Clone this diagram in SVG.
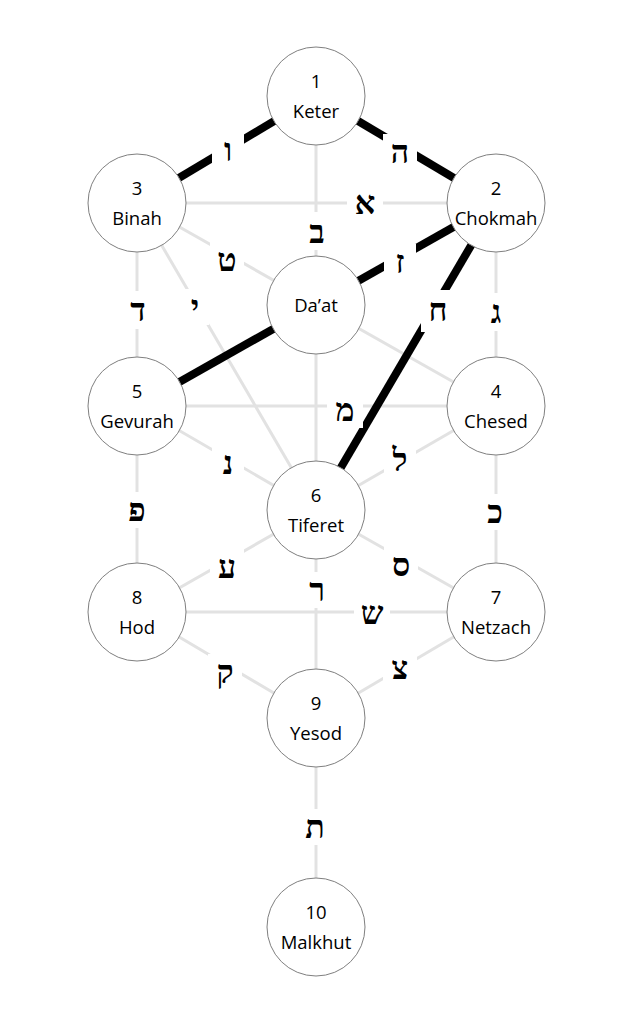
<svg xmlns="http://www.w3.org/2000/svg" width="633" height="1024" viewBox="0 0 633 1024">
<style>
.bg{fill:#ffffff}
.lt{stroke:#e2e2e2;stroke-width:3;fill:none}
.tk{stroke:#000000;stroke-width:8;fill:none}
.node circle{fill:#ffffff;stroke:#7f7f7f;stroke-width:1}
.node text{font-family:"Open Sans","Noto Sans",sans-serif;font-size:18.5px;fill:#000;text-anchor:middle}
.lbl rect{fill:#ffffff}
.lbl text{font-family:"Liberation Serif","DejaVu Serif",serif;font-weight:bold;font-size:32px;fill:#000;text-anchor:middle}
</style>
<rect class="bg" x="0" y="0" width="633" height="1024"/>
<g id="connectors">
  <line class="lt" x1="316" y1="96" x2="316" y2="510"/>
  <line class="lt" x1="137" y1="203" x2="496" y2="203"/>
  <line class="lt" x1="137" y1="203" x2="496" y2="406"/>
  <line class="lt" x1="137" y1="203" x2="316" y2="510"/>
  <line class="lt" x1="137" y1="203" x2="137" y2="406"/>
  <line class="lt" x1="496" y1="203" x2="496" y2="406"/>
  <line class="lt" x1="137" y1="406" x2="496" y2="406"/>
  <line class="lt" x1="137" y1="406" x2="316" y2="510"/>
  <line class="lt" x1="496" y1="406" x2="316" y2="510"/>
  <line class="lt" x1="137" y1="406" x2="137" y2="612"/>
  <line class="lt" x1="496" y1="406" x2="496" y2="612"/>
  <line class="lt" x1="316" y1="510" x2="137" y2="612"/>
  <line class="lt" x1="316" y1="510" x2="496" y2="612"/>
  <line class="lt" x1="137" y1="612" x2="496" y2="612"/>
  <line class="lt" x1="316" y1="510" x2="316" y2="718"/>
  <line class="lt" x1="137" y1="612" x2="316" y2="718"/>
  <line class="lt" x1="496" y1="612" x2="316" y2="718"/>
  <line class="lt" x1="316" y1="718" x2="316" y2="927"/>
  <line class="tk" x1="316" y1="96" x2="137" y2="203"/>
  <line class="tk" x1="316" y1="96" x2="496" y2="203"/>
  <line class="tk" x1="496" y1="203" x2="137" y2="406"/>
  <line class="tk" x1="496" y1="203" x2="316" y2="510"/>
</g>
<g id="labels">
  <g class="lbl" id="l-vav"><rect x="212" y="132" width="32" height="36"/><text x="228" y="161">ו</text></g>
  <g class="lbl" id="l-he"><rect x="383" y="134" width="34" height="36"/><text x="400" y="163">ה</text></g>
  <g class="lbl" id="l-aleph"><rect x="347" y="185" width="36" height="36"/><text x="365" y="214">א</text></g>
  <g class="lbl" id="l-bet"><rect x="300" y="212" width="34" height="38"/><text x="317" y="243">ב</text></g>
  <g class="lbl" id="l-tet"><rect x="210" y="242" width="34" height="36"/><text x="227" y="271">ט</text></g>
  <g class="lbl" id="l-zayin"><rect x="384" y="244" width="32" height="36"/><text x="400" y="273">ז</text></g>
  <g class="lbl" id="l-dalet"><rect x="121" y="291" width="34" height="38"/><text x="138" y="321">ד</text></g>
  <g class="lbl" id="l-yod"><rect x="181" y="289" width="28" height="36"/><text x="195" y="318">י</text></g>
  <g class="lbl" id="l-het"><rect x="421" y="290" width="34" height="42"/><text x="438" y="321">ח</text></g>
  <g class="lbl" id="l-gimel"><rect x="480" y="293" width="32" height="38"/><text x="496" y="323">ג</text></g>
  <g class="lbl" id="l-mem"><rect x="327" y="392" width="36" height="36"/><text x="345" y="421">מ</text></g>
  <g class="lbl" id="l-nun"><rect x="212" y="445" width="32" height="36"/><text x="228" y="474">נ</text></g>
  <g class="lbl" id="l-lamed"><rect x="384" y="439" width="32" height="40"/><text x="400" y="471">ל</text></g>
  <g class="lbl" id="l-pe"><rect x="120" y="492" width="34" height="36"/><text x="137" y="521">פ</text></g>
  <g class="lbl" id="l-kaf"><rect x="478" y="494" width="34" height="36"/><text x="495" y="523">כ</text></g>
  <g class="lbl" id="l-ayin"><rect x="210" y="549" width="34" height="36"/><text x="227" y="578">ע</text></g>
  <g class="lbl" id="l-samekh"><rect x="384" y="547" width="34" height="36"/><text x="401" y="576">ס</text></g>
  <g class="lbl" id="l-resh"><rect x="300" y="572" width="34" height="36"/><text x="317" y="601">ר</text></g>
  <g class="lbl" id="l-shin"><rect x="354" y="595" width="36" height="36"/><text x="372" y="624">ש</text></g>
  <g class="lbl" id="l-qof"><rect x="208" y="654" width="34" height="40"/><text x="225" y="683">ק</text></g>
  <g class="lbl" id="l-tsadi"><rect x="383" y="650" width="34" height="36"/><text x="400" y="679">צ</text></g>
  <g class="lbl" id="l-tav"><rect x="298" y="809" width="34" height="36"/><text x="315" y="838">ת</text></g>
</g>
<g id="keter" class="node"><circle cx="316" cy="96" r="49"/><text x="316" y="88">1</text><text x="316" y="118">Keter</text></g>
<g id="chokmah" class="node"><circle cx="496" cy="203" r="49"/><text x="496" y="195">2</text><text x="496" y="225">Chokmah</text></g>
<g id="binah" class="node"><circle cx="137" cy="203" r="49"/><text x="137" y="195">3</text><text x="137" y="225">Binah</text></g>
<g id="daat" class="node"><circle cx="316" cy="305" r="49"/><text x="316" y="312">Da’at</text></g>
<g id="chesed" class="node"><circle cx="496" cy="406" r="49"/><text x="496" y="398">4</text><text x="496" y="428">Chesed</text></g>
<g id="gevurah" class="node"><circle cx="137" cy="406" r="49"/><text x="137" y="398">5</text><text x="137" y="428">Gevurah</text></g>
<g id="tiferet" class="node"><circle cx="316" cy="510" r="49"/><text x="316" y="502">6</text><text x="316" y="532">Tiferet</text></g>
<g id="netzach" class="node"><circle cx="496" cy="612" r="49"/><text x="496" y="604">7</text><text x="496" y="634">Netzach</text></g>
<g id="hod" class="node"><circle cx="137" cy="612" r="49"/><text x="137" y="604">8</text><text x="137" y="634">Hod</text></g>
<g id="yesod" class="node"><circle cx="316" cy="718" r="49"/><text x="316" y="710">9</text><text x="316" y="740">Yesod</text></g>
<g id="malkhut" class="node"><circle cx="316" cy="927" r="49"/><text x="316" y="919">10</text><text x="316" y="949">Malkhut</text></g>
</svg>
